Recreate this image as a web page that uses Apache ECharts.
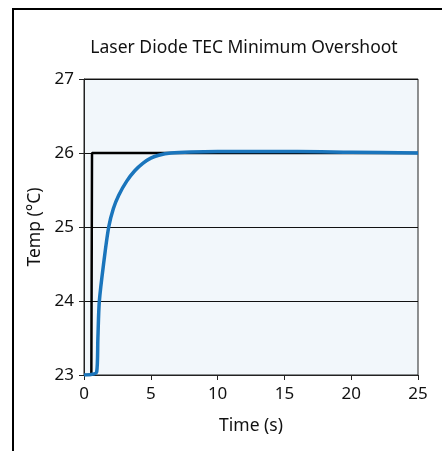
<!DOCTYPE html>
<html>
<head>
<meta charset="utf-8">
<script src="https://cdn.jsdelivr.net/npm/echarts@6/dist/echarts.min.js"></script>
<style>
html,body{margin:0;padding:0;background:#fff;}
#chart{width:442px;height:451px;}
</style>
</head>
<body>
<div id="chart"></div>
<script>
const title = "Laser Diode TEC Minimum Overshoot";
const xName = "Time (s)";
const yName = "Temp (\u00B0C)";
const setpointT = [0, 0.55, 0.6, 25];
const setpointV = [23, 23, 26, 26];
const tempT = [0, 0.95, 1.04, 1.15, 1.5, 1.85, 2.2, 2.6, 3.2, 3.8, 4.4, 5.0, 5.6, 6.5, 8, 10, 13, 16, 20, 25];
const tempV = [23.0, 23.04, 23.5, 24.0, 24.55, 25.0, 25.25, 25.43, 25.62, 25.76, 25.86, 25.93, 25.97, 26.0, 26.015, 26.02, 26.02, 26.02, 26.01, 26.0];

const font = "Noto Sans";
const chart = echarts.init(document.getElementById('chart'));
chart.setOption({
  animation: false,
  textStyle: {fontFamily: font},
  title: {text: title, left: 239, top: 34, textAlign: 'center',
    textStyle: {fontFamily: font, fontSize: 17.5, fontWeight: 'normal', color: '#111'}},
  grid: {left: 84, right: 24, top: 79, bottom: 76, show: true,
    backgroundColor: '#f2f7fb', borderColor: '#222', borderWidth: 1},
  xAxis: {type: 'value', min: 0, max: 25, interval: 5,
    name: xName, nameLocation: 'middle', nameGap: 42,
    nameTextStyle: {fontFamily: font, fontSize: 17.5, color: '#111'},
    axisLine: {show: true, onZero: false, lineStyle: {color: '#222', width: 1}},
    axisTick: {show: true, inside: false, length: 5, lineStyle: {color: '#222'}},
    axisLabel: {fontFamily: font, fontSize: 17, color: '#111', margin: 11},
    splitLine: {show: false}},
  yAxis: {type: 'value', min: 23, max: 27, interval: 1,
    name: yName, nameLocation: 'middle', nameGap: 33, nameRotate: 90,
    nameTextStyle: {fontFamily: font, fontSize: 17.5, color: '#111'},
    axisLine: {show: true, lineStyle: {color: '#222', width: 1}},
    axisTick: {show: true, inside: false, length: 5, lineStyle: {color: '#222'}},
    axisLabel: {fontFamily: font, fontSize: 17, color: '#111', margin: 10},
    splitLine: {show: true, lineStyle: {color: '#111', width: 1}}},
  series: [
    {type: 'line', data: setpointT.map((t, i) => [t, setpointV[i]]), showSymbol: false,
      lineStyle: {color: '#000', width: 2.5}, z: 2},
    {type: 'line', data: tempT.map((t, i) => [t, tempV[i]]), showSymbol: false,
      smooth: 0.3,
      lineStyle: {color: '#1a75bc', width: 3.5}, z: 3}
  ],
  graphic: [
    {type: 'line', shape: {x1: 13, y1: 8, x2: 13, y2: 451}, style: {stroke: '#000', lineWidth: 2}},
    {type: 'line', shape: {x1: 12, y1: 9, x2: 442, y2: 9}, style: {stroke: '#000', lineWidth: 2}}
  ]
});
</script>
</body>
</html>
